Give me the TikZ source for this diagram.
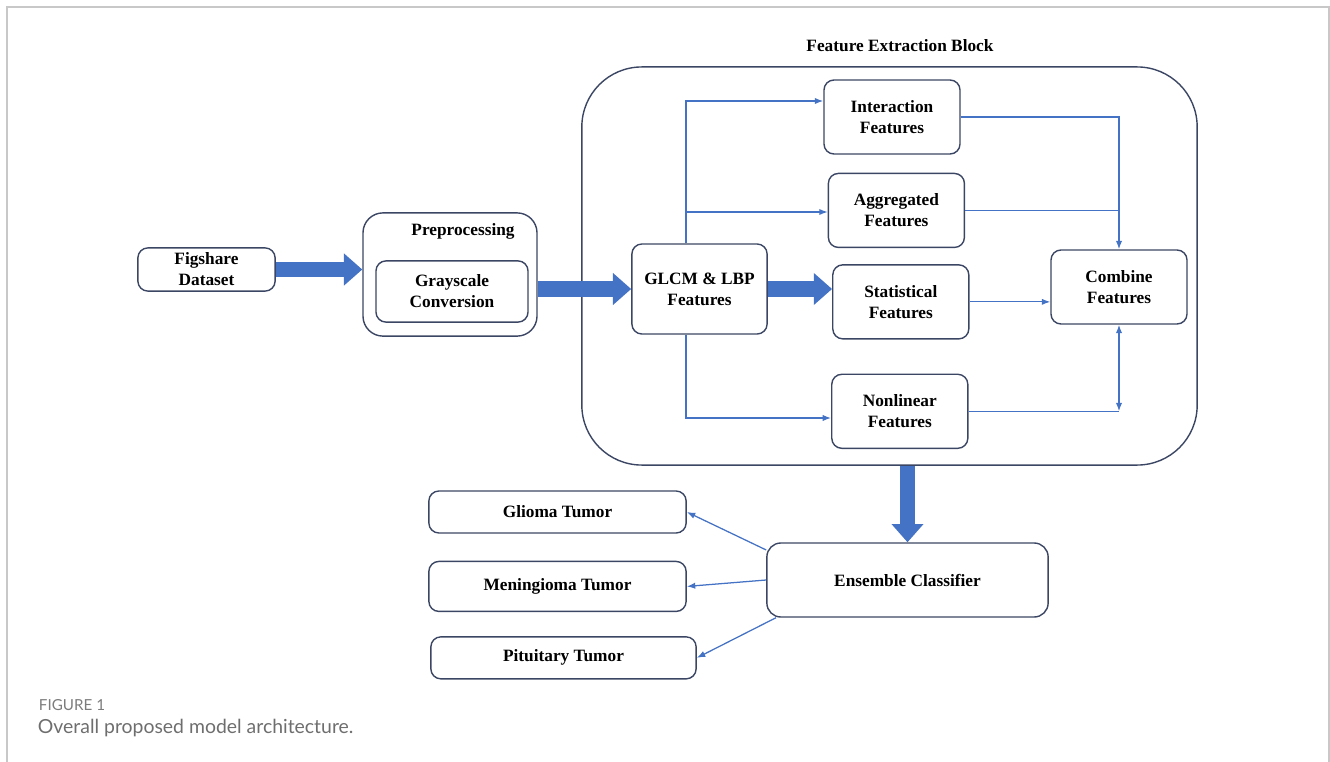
\documentclass[tikz,border=0pt]{standalone}
\usepackage{fontspec}
\setmainfont{Liberation Serif}
\newfontfamily\captionfont{Lato}
\usetikzlibrary{positioning,arrows.meta}
\definecolor{boxline}{HTML}{3A4663}
\definecolor{flowblue}{HTML}{4472C4}
\definecolor{framegray}{HTML}{C8C8C8}
\definecolor{capgray}{HTML}{6E6E6E}
\tikzset{
	block/.style={draw=boxline, line width=1pt, rounded corners=0.25cm, align=center, inner sep=0pt, font=\bfseries\fontsize{12.3}{15}\selectfont},
	feat/.style={block, minimum width=3.4cm, minimum height=1.85cm},
	outbox/.style={block, minimum width=6.43cm, minimum height=1.05cm},
	title/.style={font=\bfseries\fontsize{12.3}{15}\selectfont},
	link/.style={flowblue, line width=0.9pt},
	flow/.style={link, -{Latex[length=6pt,width=4.5pt]}},
	fat/.style={flowblue, line width=11pt, -{Triangle[length=13pt,width=22pt]}},
}
\begin{document}
\begin{tikzpicture}[x=0.025cm, y=-0.025cm]
	\useasboundingbox (0,0) rectangle (1330,762);
	\draw[framegray, line width=1.3pt] (7,762) -- (7,7) -- (1329,7) -- (1329,762);
	
	% input and preprocessing
	\node[block, minimum width=3.43cm, minimum height=1.08cm] (fig) at (206.5,269.5) {Figshare\\Dataset};
	\node[block, rounded corners=0.5cm, minimum width=4.35cm, minimum height=3.08cm] (pre) at (450,274.5) {};
	\node[title] (pretitle) at (463,231) {Preprocessing};
	\node[block, minimum width=3.8cm, minimum height=1.53cm] (gray) at (452,291.5) {Grayscale\\Conversion};
	
	% feature extraction block
	\node[block, rounded corners=1.5cm, minimum width=15.38cm, minimum height=9.95cm] (feb) at (889.5,266) {};
	\node[title] (febtitle) at (900,46) {Feature Extraction Block};
	\node[block, minimum width=3.38cm, minimum height=2.25cm] (glcm) at (699.5,289) {GLCM \& LBP\\Features};
	\node[feat] (inter) at (892,117) {Interaction\\Features};
	\node[feat, below=0.45cm of inter, xshift=0.11cm] (aggr) {Aggregated\\Features};
	\node[feat, below=0.4cm of aggr, xshift=0.11cm] (stat) {Statistical\\Features};
	\node[feat, below=0.85cm of stat, xshift=-0.025cm] (nonlin) {Nonlinear\\Features};
	\node[feat] (comb) at (1119,287) {Combine\\Features};
	
	% classifier and outputs
	\node[block, rounded corners=0.35cm, minimum width=7.03cm, minimum height=1.85cm] (ens) at (907.5,580) {Ensemble Classifier};
	\node[outbox] (glioma) at (557.5,512) {Glioma Tumor};
	\node[outbox, minimum height=1.25cm, below=0.675cm of glioma] (men) {Meningioma Tumor};
	\node[outbox, minimum width=6.63cm, below=0.6cm of men, xshift=0.15cm] (pit) {Pituitary Tumor};
	
	\coordinate (up) at (686,101);
	\coordinate (mid) at (686,212);
	\coordinate (dn) at (686,418);
	
	% thick arrows
	\draw[fat] (fig.east) -- (pre.west |- fig.east);
	\draw[fat] (pre.east |- glcm.west) -- (glcm.west);
	\draw[fat] (glcm.east) -- (stat.west |- glcm.east);
	\draw[fat] (feb.south -| ens.north) -- (ens.north);
	
	% branches out of GLCM & LBP
	\draw[flow] (glcm.north -| up) -- (up) -- (inter.west |- up);
	\draw[flow] (mid) -- (aggr.west |- mid);
	\draw[flow] (glcm.south -| dn) -- (dn) -- (nonlin.west |- dn);
	
	% into combine
	\draw[flow] (inter.east) -- (inter.east -| comb.north) -- (comb.north);
	\draw[link] (aggr.east) -- (aggr.east -| comb.north);
	\draw[flow] (stat.east) -- (comb.west |- stat.east);
	\draw[link] (nonlin.east) -- (nonlin.east -| comb.south);
	\draw[link, {Latex[length=6pt,width=4.5pt]}-{Latex[length=6pt,width=4.5pt]}] (comb.south) -- (nonlin.east -| comb.south);
	
	% classes
	\draw[flow] (ens.168) -- (glioma.east);
	\draw[flow] (ens.west) -- (men.east);
	\draw[flow] (ens.196) -- (pit.east);
	
	% caption
	\node[anchor=base west, font=\captionfont\fontsize{10.8}{12}\selectfont, text=capgray!90] (capnum) at (34,710) {FIGURE 1};
	\node[anchor=base west, font=\captionfont\fontsize{13.8}{16}\selectfont, text=capgray] (captext) at (33,733) {Overall proposed model architecture.};
\end{tikzpicture}
\end{document}
